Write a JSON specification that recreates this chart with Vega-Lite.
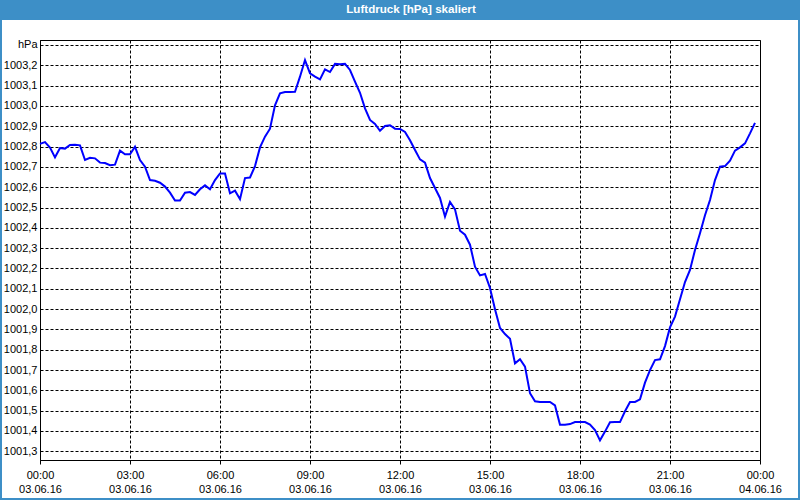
{
  "$schema": "https://vega.github.io/schema/vega-lite/v6.json",
  "width": 720,
  "height": 420,
  "autosize": {"type": "none"},
  "padding": {"left": 40, "top": 40, "right": 40, "bottom": 40},
  "background": "#ffffff",
  "resolve": {"axis": {"x": "independent", "y": "independent"}},
  "config": {
    "view": {"stroke": "#000000", "strokeWidth": 1, "fill": "#ffffff"},
    "axis": {
      "labelFont": "Liberation Sans",
      "labelFontSize": 11,
      "labelColor": "#000000",
      "domainColor": "#000000",
      "tickColor": "#000000",
      "gridColor": "#000000",
      "gridDash": [3, 2],
      "gridWidth": 1,
      "labelOverlap": false,
      "labelFlush": false
    }
  },
  "layer": [
    {
      "data": {"values": [
        {"t": "2016-06-03T00:00", "p": 1002.813}, {"t": "2016-06-03T00:10", "p": 1002.822}, {"t": "2016-06-03T00:20", "p": 1002.795}, {"t": "2016-06-03T00:30", "p": 1002.747}, {"t": "2016-06-03T00:40", "p": 1002.793}, {"t": "2016-06-03T00:50", "p": 1002.790},
        {"t": "2016-06-03T01:00", "p": 1002.808}, {"t": "2016-06-03T01:10", "p": 1002.809}, {"t": "2016-06-03T01:20", "p": 1002.806}, {"t": "2016-06-03T01:30", "p": 1002.734}, {"t": "2016-06-03T01:40", "p": 1002.745}, {"t": "2016-06-03T01:50", "p": 1002.742},
        {"t": "2016-06-03T02:00", "p": 1002.721}, {"t": "2016-06-03T02:10", "p": 1002.719}, {"t": "2016-06-03T02:20", "p": 1002.708}, {"t": "2016-06-03T02:30", "p": 1002.711}, {"t": "2016-06-03T02:40", "p": 1002.780}, {"t": "2016-06-03T02:50", "p": 1002.762},
        {"t": "2016-06-03T03:00", "p": 1002.762}, {"t": "2016-06-03T03:10", "p": 1002.799}, {"t": "2016-06-03T03:20", "p": 1002.734}, {"t": "2016-06-03T03:30", "p": 1002.701}, {"t": "2016-06-03T03:40", "p": 1002.635}, {"t": "2016-06-03T03:50", "p": 1002.632},
        {"t": "2016-06-03T04:00", "p": 1002.622}, {"t": "2016-06-03T04:10", "p": 1002.603}, {"t": "2016-06-03T04:20", "p": 1002.573}, {"t": "2016-06-03T04:30", "p": 1002.534}, {"t": "2016-06-03T04:40", "p": 1002.534}, {"t": "2016-06-03T04:50", "p": 1002.573},
        {"t": "2016-06-03T05:00", "p": 1002.576}, {"t": "2016-06-03T05:10", "p": 1002.562}, {"t": "2016-06-03T05:20", "p": 1002.590}, {"t": "2016-06-03T05:30", "p": 1002.609}, {"t": "2016-06-03T05:40", "p": 1002.590}, {"t": "2016-06-03T05:50", "p": 1002.635},
        {"t": "2016-06-03T06:00", "p": 1002.668}, {"t": "2016-06-03T06:10", "p": 1002.668}, {"t": "2016-06-03T06:20", "p": 1002.570}, {"t": "2016-06-03T06:30", "p": 1002.583}, {"t": "2016-06-03T06:40", "p": 1002.541}, {"t": "2016-06-03T06:50", "p": 1002.645},
        {"t": "2016-06-03T07:00", "p": 1002.648}, {"t": "2016-06-03T07:10", "p": 1002.704}, {"t": "2016-06-03T07:20", "p": 1002.796}, {"t": "2016-06-03T07:30", "p": 1002.849}, {"t": "2016-06-03T07:40", "p": 1002.888}, {"t": "2016-06-03T07:50", "p": 1003.003},
        {"t": "2016-06-03T08:00", "p": 1003.062}, {"t": "2016-06-03T08:10", "p": 1003.069}, {"t": "2016-06-03T08:20", "p": 1003.069}, {"t": "2016-06-03T08:30", "p": 1003.070}, {"t": "2016-06-03T08:40", "p": 1003.144}, {"t": "2016-06-03T08:50", "p": 1003.226},
        {"t": "2016-06-03T09:00", "p": 1003.161}, {"t": "2016-06-03T09:10", "p": 1003.144}, {"t": "2016-06-03T09:20", "p": 1003.131}, {"t": "2016-06-03T09:30", "p": 1003.180}, {"t": "2016-06-03T09:40", "p": 1003.167}, {"t": "2016-06-03T09:50", "p": 1003.207},
        {"t": "2016-06-03T10:00", "p": 1003.205}, {"t": "2016-06-03T10:10", "p": 1003.207}, {"t": "2016-06-03T10:20", "p": 1003.177}, {"t": "2016-06-03T10:30", "p": 1003.120}, {"t": "2016-06-03T10:40", "p": 1003.065}, {"t": "2016-06-03T10:50", "p": 1002.988},
        {"t": "2016-06-03T11:00", "p": 1002.931}, {"t": "2016-06-03T11:10", "p": 1002.911}, {"t": "2016-06-03T11:20", "p": 1002.878}, {"t": "2016-06-03T11:30", "p": 1002.901}, {"t": "2016-06-03T11:40", "p": 1002.905}, {"t": "2016-06-03T11:50", "p": 1002.888},
        {"t": "2016-06-03T12:00", "p": 1002.887}, {"t": "2016-06-03T12:10", "p": 1002.872}, {"t": "2016-06-03T12:20", "p": 1002.831}, {"t": "2016-06-03T12:30", "p": 1002.783}, {"t": "2016-06-03T12:40", "p": 1002.737}, {"t": "2016-06-03T12:50", "p": 1002.721},
        {"t": "2016-06-03T13:00", "p": 1002.645}, {"t": "2016-06-03T13:10", "p": 1002.596}, {"t": "2016-06-03T13:20", "p": 1002.547}, {"t": "2016-06-03T13:30", "p": 1002.455}, {"t": "2016-06-03T13:40", "p": 1002.527}, {"t": "2016-06-03T13:50", "p": 1002.491},
        {"t": "2016-06-03T14:00", "p": 1002.386}, {"t": "2016-06-03T14:10", "p": 1002.366}, {"t": "2016-06-03T14:20", "p": 1002.317}, {"t": "2016-06-03T14:30", "p": 1002.209}, {"t": "2016-06-03T14:40", "p": 1002.166}, {"t": "2016-06-03T14:50", "p": 1002.173},
        {"t": "2016-06-03T15:00", "p": 1002.104}, {"t": "2016-06-03T15:10", "p": 1001.999}, {"t": "2016-06-03T15:20", "p": 1001.907}, {"t": "2016-06-03T15:30", "p": 1001.877}, {"t": "2016-06-03T15:40", "p": 1001.854}, {"t": "2016-06-03T15:50", "p": 1001.733},
        {"t": "2016-06-03T16:00", "p": 1001.753}, {"t": "2016-06-03T16:10", "p": 1001.717}, {"t": "2016-06-03T16:20", "p": 1001.586}, {"t": "2016-06-03T16:30", "p": 1001.546}, {"t": "2016-06-03T16:40", "p": 1001.543}, {"t": "2016-06-03T16:50", "p": 1001.543},
        {"t": "2016-06-03T17:00", "p": 1001.543}, {"t": "2016-06-03T17:10", "p": 1001.526}, {"t": "2016-06-03T17:20", "p": 1001.431}, {"t": "2016-06-03T17:30", "p": 1001.431}, {"t": "2016-06-03T17:40", "p": 1001.434}, {"t": "2016-06-03T17:50", "p": 1001.444},
        {"t": "2016-06-03T18:00", "p": 1001.444}, {"t": "2016-06-03T18:10", "p": 1001.444}, {"t": "2016-06-03T18:20", "p": 1001.432}, {"t": "2016-06-03T18:30", "p": 1001.405}, {"t": "2016-06-03T18:40", "p": 1001.354}, {"t": "2016-06-03T18:50", "p": 1001.397},
        {"t": "2016-06-03T19:00", "p": 1001.443}, {"t": "2016-06-03T19:10", "p": 1001.444}, {"t": "2016-06-03T19:20", "p": 1001.444}, {"t": "2016-06-03T19:30", "p": 1001.497}, {"t": "2016-06-03T19:40", "p": 1001.543}, {"t": "2016-06-03T19:50", "p": 1001.543},
        {"t": "2016-06-03T20:00", "p": 1001.556}, {"t": "2016-06-03T20:10", "p": 1001.638}, {"t": "2016-06-03T20:20", "p": 1001.700}, {"t": "2016-06-03T20:30", "p": 1001.749}, {"t": "2016-06-03T20:40", "p": 1001.753}, {"t": "2016-06-03T20:50", "p": 1001.818},
        {"t": "2016-06-03T21:00", "p": 1001.910}, {"t": "2016-06-03T21:10", "p": 1001.963}, {"t": "2016-06-03T21:20", "p": 1002.048}, {"t": "2016-06-03T21:30", "p": 1002.133}, {"t": "2016-06-03T21:40", "p": 1002.193}, {"t": "2016-06-03T21:50", "p": 1002.291},
        {"t": "2016-06-03T22:00", "p": 1002.373}, {"t": "2016-06-03T22:10", "p": 1002.462}, {"t": "2016-06-03T22:20", "p": 1002.537}, {"t": "2016-06-03T22:30", "p": 1002.635}, {"t": "2016-06-03T22:40", "p": 1002.701}, {"t": "2016-06-03T22:50", "p": 1002.704},
        {"t": "2016-06-03T23:00", "p": 1002.731}, {"t": "2016-06-03T23:10", "p": 1002.780}, {"t": "2016-06-03T23:20", "p": 1002.796}, {"t": "2016-06-03T23:30", "p": 1002.816}, {"t": "2016-06-03T23:40", "p": 1002.865}, {"t": "2016-06-03T23:50", "p": 1002.917}
      ]},
      "mark": {"type": "line", "color": "#0000ff", "strokeWidth": 2},
      "encoding": {
        "x": {
          "field": "t",
          "type": "temporal",
          "scale": {"domain": [{"year": 2016, "month": 6, "date": 3, "hours": 0}, {"year": 2016, "month": 6, "date": 4, "hours": 0}], "nice": false},
          "axis": {
            "orient": "bottom",
            "title": null,
            "values": [
              {"year": 2016, "month": 6, "date": 3, "hours": 0},
              {"year": 2016, "month": 6, "date": 3, "hours": 3},
              {"year": 2016, "month": 6, "date": 3, "hours": 6},
              {"year": 2016, "month": 6, "date": 3, "hours": 9},
              {"year": 2016, "month": 6, "date": 3, "hours": 12},
              {"year": 2016, "month": 6, "date": 3, "hours": 15},
              {"year": 2016, "month": 6, "date": 3, "hours": 18},
              {"year": 2016, "month": 6, "date": 3, "hours": 21},
              {"year": 2016, "month": 6, "date": 4, "hours": 0}
            ],
            "tickSize": 4,
            "labelPadding": 5,
            "labelLineHeight": 14.5,
            "labelExpr": "[timeFormat(datum.value, '%H:%M'), timeFormat(datum.value, '%d.%m.%y')]",
            "grid": true
          }
        },
        "y": {
          "field": "p",
          "type": "quantitative",
          "scale": {"domain": [1001.2572, 1003.3246], "nice": false, "zero": false},
          "axis": {
            "orient": "left",
            "title": null,
            "values": [1001.3, 1001.4, 1001.5, 1001.6, 1001.7, 1001.8, 1001.9, 1002.0, 1002.1, 1002.2, 1002.3, 1002.4, 1002.5, 1002.6, 1002.7, 1002.8, 1002.9, 1003.0, 1003.1, 1003.2, 1003.3],
            "ticks": false,
            "labelPadding": 3,
            "grid": true,
            "labelExpr": "datum.value > 1003.25 ? 'hPa' : replace(format(datum.value, '.1f'), '.', ',')"
          }
        }
      }
    },
    {
      "data": {"values": [{"part": "window"}]},
      "mark": {"type": "rect", "filled": false, "fillOpacity": 0, "color": "#3d8fc7", "strokeWidth": 4, "clip": false},
      "encoding": {
        "x": {"datum": {"year": 2016, "month": 6, "date": 2, "hours": 22, "minutes": 40}, "type": "temporal", "axis": null},
        "x2": {"datum": {"year": 2016, "month": 6, "date": 4, "hours": 1, "minutes": 20}},
        "y": {"datum": 1003.5215, "type": "quantitative", "axis": null},
        "y2": {"datum": 1001.0603}
      }
    },
    {
      "data": {"values": [{"part": "titlebar"}]},
      "mark": {"type": "rect", "color": "#3d8fc7", "clip": false},
      "encoding": {
        "x": {"datum": {"year": 2016, "month": 6, "date": 2, "hours": 22, "minutes": 40}, "type": "temporal", "axis": null},
        "x2": {"datum": {"year": 2016, "month": 6, "date": 4, "hours": 1, "minutes": 20}},
        "y": {"datum": 1003.5215, "type": "quantitative", "axis": null},
        "y2": {"datum": 1003.4231}
      }
    },
    {
      "data": {"values": [{"label": "Luftdruck [hPa] skaliert"}]},
      "mark": {"type": "text", "color": "#ffffff", "font": "Liberation Sans", "fontSize": 11.6, "fontWeight": "bold", "align": "center", "baseline": "middle", "clip": false},
      "encoding": {
        "text": {"field": "label"},
        "x": {"datum": {"year": 2016, "month": 6, "date": 3, "hours": 12, "minutes": 22}, "type": "temporal", "axis": null},
        "y": {"datum": 1003.4723, "type": "quantitative", "axis": null}
      }
    }
  ]
}
